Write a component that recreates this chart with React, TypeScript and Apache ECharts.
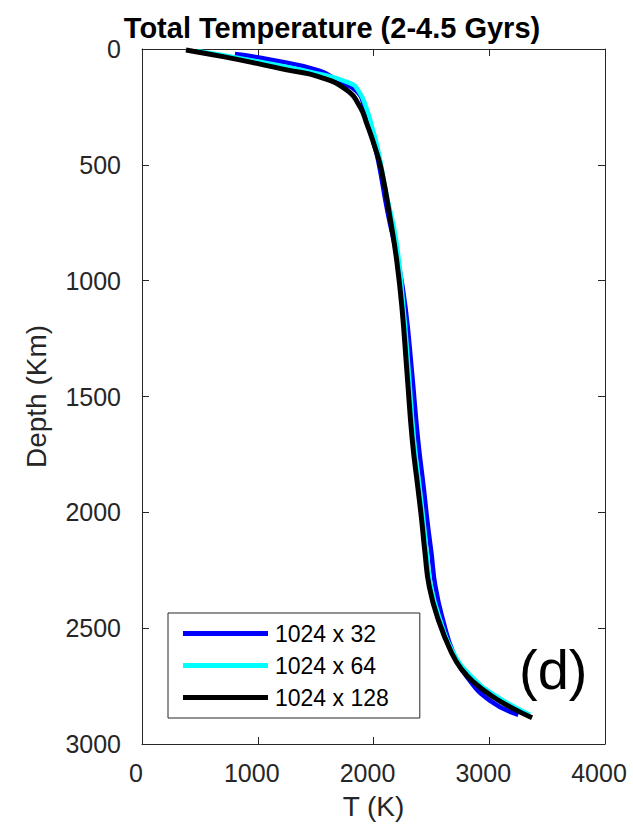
import React, { useEffect, useRef } from "react";
import * as echarts from "echarts";

const seriesNames = ["1024 x 32", "1024 x 64", "1024 x 128"];
const seriesColors = ["#0000ff", "#00ffff", "#000000"];

// [T (K), depth (km)]
const blue32: number[][] = [
  [803, 22], [1100, 45], [1538, 94], [1700, 140], [1854, 182], [1920, 249],
  [1995, 393], [2040, 480], [2120, 700], [2210, 911], [2275, 1112], [2333, 1400],
  [2385, 1688], [2435, 1900], [2464, 2033], [2500, 2175], [2535, 2321],
  [2600, 2464], [2690, 2607], [2810, 2712], [3006, 2813], [3251, 2874],
];
const cyan64: number[][] = [
  [472, 9], [900, 45], [1509, 105], [1797, 147], [1870, 180], [1935, 249],
  [1995, 350], [2045, 450], [2110, 623], [2195, 824], [2258, 1112],
  [2305, 1400], [2350, 1688], [2400, 1900], [2431, 2033], [2460, 2175],
  [2497, 2321], [2575, 2464], [2690, 2607], [2845, 2708], [3050, 2790],
  [3352, 2874],
];
const black128: number[][] = [
  [380, 4], [700, 33], [991, 62], [1250, 90], [1538, 121], [1768, 177],
  [1883, 249], [1941, 321], [2020, 436], [2075, 537], [2150, 750], [2200, 911],
  [2245, 1112], [2290, 1400], [2335, 1688], [2385, 1900], [2416, 2033],
  [2445, 2175], [2482, 2321], [2560, 2464], [2675, 2607], [2765, 2680],
  [2870, 2735], [3035, 2797], [3200, 2845], [3370, 2887],
];
const allSeries = [blue32, cyan64, black128];
const seriesWidths = [4.5, 4.5, 5];

const axisColor = "#262626";
const fontFamily = "'Liberation Sans', Arial, Helvetica, sans-serif";

export default function App() {
  const ref = useRef<HTMLDivElement>(null);
  useEffect(() => {
    if (!ref.current) return;
    const chart = echarts.init(ref.current, undefined, { renderer: "svg" });
    const grid = { left: 142, top: 49, width: 463, height: 695 };
    const tick = { show: true, inside: true, length: 7, lineStyle: { color: axisColor, width: 1 } };
    const plain = (v: number) => String(v);
    chart.setOption({
      animation: false,
      backgroundColor: "#ffffff",
      title: {
        text: "Total Temperature (2-4.5 Gyrs)",
        left: 327,
        textAlign: "center",
        top: 8,
        textStyle: { fontFamily, fontSize: 29, fontWeight: "bold", color: "#000" },
      },
      grid,
      legend: {
        orient: "vertical",
        left: 168,
        top: 613,
        icon: "rect",
        itemWidth: 85,
        itemHeight: 5,
        itemGap: 9,
        padding: [9, 31, 9, 15],
        backgroundColor: "#ffffff",
        borderColor: axisColor,
        borderWidth: 1,
        borderRadius: 0,
        data: seriesNames,
        textStyle: { fontFamily, fontSize: 23, color: "#000", lineHeight: 23, padding: [0, 0, 0, 2] },
      },
      xAxis: [
        {
          type: "value",
          min: 0,
          max: 4000,
          interval: 1000,
          position: "bottom",
          name: "T (K)",
          nameLocation: "middle",
          nameGap: 48,
          nameTextStyle: { fontFamily, fontSize: 28, color: axisColor },
          axisLine: { show: true, onZero: false, lineStyle: { color: axisColor, width: 1 } },
          axisTick: tick,
          axisLabel: { fontFamily, fontSize: 25, color: axisColor, margin: 16, formatter: plain, padding: [0, 12, 0, 0] },
          splitLine: { show: false },
        },
        {
          type: "value",
          min: 0,
          max: 4000,
          interval: 1000,
          position: "top",
          axisLine: { show: true, onZero: false, lineStyle: { color: axisColor, width: 1 } },
          axisTick: tick,
          axisLabel: { show: false },
          splitLine: { show: false },
        },
      ],
      yAxis: [
        {
          type: "value",
          inverse: true,
          min: 0,
          max: 3000,
          interval: 500,
          position: "left",
          name: "Depth (Km)",
          nameLocation: "middle",
          nameGap: 92,
          nameRotate: 90,
          nameTextStyle: { fontFamily, fontSize: 28, color: axisColor },
          axisLine: { show: true, onZero: false, lineStyle: { color: axisColor, width: 1 } },
          axisTick: tick,
          axisLabel: { fontFamily, fontSize: 25, color: axisColor, margin: 21, formatter: plain },
          splitLine: { show: false },
        },
        {
          type: "value",
          inverse: true,
          min: 0,
          max: 3000,
          interval: 500,
          position: "right",
          axisLine: { show: true, onZero: false, lineStyle: { color: axisColor, width: 1 } },
          axisTick: tick,
          axisLabel: { show: false },
          splitLine: { show: false },
        },
      ],
      graphic: [
        {
          type: "text",
          left: 519,
          top: 641,
          style: { text: "(d)", fontFamily, fontSize: 56, fill: "#000" },
        },
      ],
      series: allSeries.map((d, i) => ({
        name: seriesNames[i],
        type: "line",
        data: d,
        showSymbol: false,
        symbol: "none",
        smooth: 0.5,
        lineStyle: { color: seriesColors[i], width: seriesWidths[i] },
        itemStyle: { color: seriesColors[i] },
        z: 2 + i,
      })),
    });
    return () => chart.dispose();
  }, []);
  return <div ref={ref} style={{ width: 633, height: 829, position: "absolute", left: 0, top: 0 }} />;
}
